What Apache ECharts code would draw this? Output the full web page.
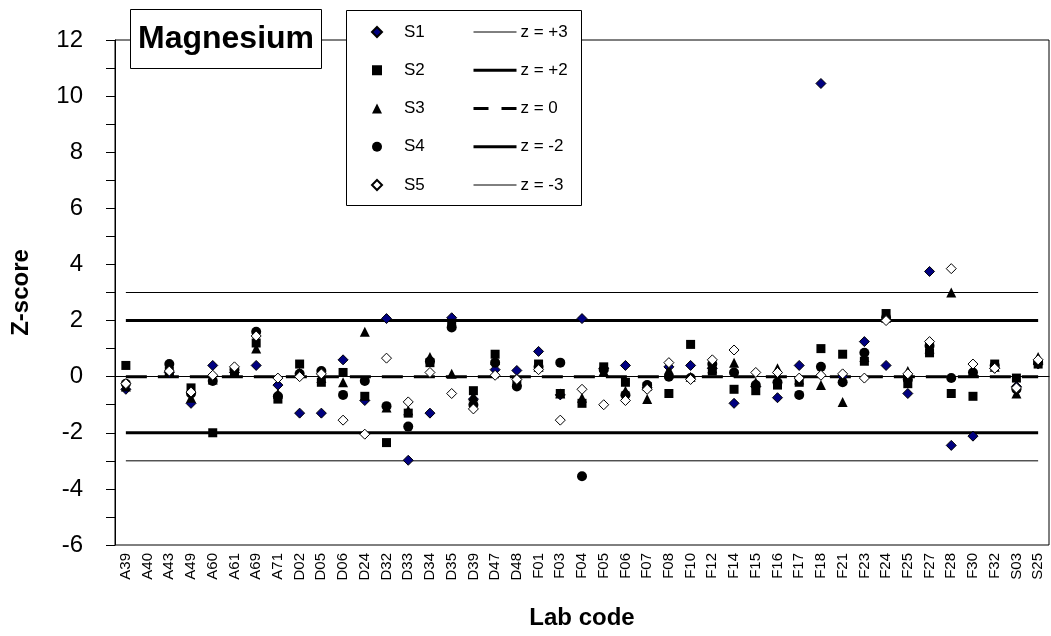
<!DOCTYPE html>
<html>
<head>
<meta charset="utf-8">
<script src="https://cdn.jsdelivr.net/npm/echarts@6/dist/echarts.min.js"></script>
<style>
  html, body { margin: 0; padding: 0; background: #fff; }
  #chart { width: 1051px; height: 636px; }
</style>
</head>
<body>
<div id="chart"></div>
<script>
const labCodes = ['A39', 'A40', 'A43', 'A49', 'A60', 'A61', 'A69', 'A71',
  'D02', 'D05', 'D06', 'D24', 'D32', 'D33', 'D34', 'D35', 'D39', 'D47', 'D48',
  'F01', 'F03', 'F04', 'F05', 'F06', 'F07', 'F08', 'F10', 'F12', 'F14', 'F15',
  'F16', 'F17', 'F18', 'F21', 'F23', 'F24', 'F25', 'F27', 'F28', 'F30', 'F32',
  'S03', 'S25'];

// z-scores per sample, same order as labCodes
const s1 = [-0.45, null, 0.15, -0.95, 0.4, 0.15, 0.4, -0.3,
  -1.3, -1.3, 0.6, -0.85, 2.07, -2.98, -1.3, 2.1, -0.8, 0.25, 0.22,
  0.9, -0.65, 2.07, 0.3, 0.4, -0.4, 0.35, 0.4, 0.3, -0.95, -0.35,
  -0.75, 0.4, 10.45, 0.0, 1.25, 0.4, -0.6, 3.75, -2.45, -2.12, 0.3,
  -0.35, 0.45];
const s2 = [0.4, null, 0.2, -0.4, -2.0, 0.15, 1.2, -0.8,
  0.45, -0.2, 0.15, -0.7, -2.35, -1.3, 0.5, 1.9, -0.5, 0.8, -0.2,
  0.45, -0.6, -0.95, 0.35, -0.2, -0.35, -0.6, 1.15, 0.2, -0.45, -0.5,
  -0.3, -0.2, 1.0, 0.8, 0.55, 2.25, -0.25, 0.85, -0.6, -0.7, 0.45,
  -0.05, 0.45];
const s3 = [-0.35, null, 0.2, -0.75, -0.1, 0.15, 1.0, -0.6,
  0.15, -0.05, -0.2, 1.6, -1.1, -1.2, 0.7, 0.1, -0.7, 0.6, -0.15,
  0.35, -0.6, -0.75, 0.2, -0.5, -0.8, 0.25, 0.0, 0.3, 0.5, -0.2,
  0.3, -0.1, -0.3, -0.9, 0.7, 2.1, 0.2, 1.0, 3.0, 0.2, 0.35,
  -0.6, 0.7];
const s4 = [-0.25, null, 0.45, -0.6, -0.15, 0.25, 1.6, -0.7,
  0.1, 0.2, -0.65, -0.15, -1.05, -1.78, 0.55, 1.75, -1.0, 0.5, -0.35,
  0.35, 0.5, -3.55, 0.25, -0.65, -0.3, 0.0, -0.05, 0.45, 0.15, -0.3,
  -0.2, -0.65, 0.35, -0.2, 0.85, 2.1, -0.1, 1.1, -0.05, 0.15, 0.4,
  -0.45, 0.5];
const s5 = [-0.25, null, 0.2, -0.55, 0.05, 0.35, 1.45, -0.05,
  0.0, 0.1, -1.55, -2.05, 0.66, -0.9, 0.15, -0.6, -1.15, 0.05, -0.1,
  0.25, -1.55, -0.45, -1.0, -0.85, -0.45, 0.5, -0.1, 0.6, 0.95, 0.15,
  0.15, -0.05, 0.05, 0.1, -0.05, 2.0, 0.1, 1.25, 3.85, 0.45, 0.3,
  -0.4, 0.6];

const zLevels = [3, 2, 0, -2, -3];
const zNames = ['z = +3', 'z = +2', 'z = 0', 'z = -2', 'z = -3'];

const font = 'Liberation Sans, Arial, sans-serif';
const chart = echarts.init(document.getElementById('chart'));

const lineStyles = [
  { width: 1, type: 'solid' },
  { width: 3, type: 'solid' },
  { width: 3, type: [21, 11] },
  { width: 3, type: 'solid' },
  { width: 1, type: 'solid' }
];
// legend swatches are shorter, so the dash is tightened a bit
const legendLines = [
  { width: 1, type: 'solid' },
  { width: 3, type: 'solid' },
  { width: 3, type: [15, 13] },
  { width: 3, type: 'solid' },
  { width: 1, type: 'solid' }
];

const zSeries = zLevels.map((z, i) => ({
  name: zNames[i],
  type: 'line',
  symbol: 'none',
  silent: true,
  z: 1,
  itemStyle: { color: '#000' },
  lineStyle: { color: '#000', ...lineStyles[i] },
  data: [[labCodes[0], z], [labCodes[labCodes.length - 1], z]]
}));

const scatterItem = {
  type: 'scatter',
  z: 3
};

chart.setOption({
  animation: false,
  backgroundColor: '#fff',
  textStyle: { fontFamily: font, color: '#000' },
  title: {
    text: 'Magnesium',
    left: 130,
    top: 9,
    padding: [10, 8],
    borderColor: '#000',
    borderWidth: 1,
    backgroundColor: '#fff',
    z: 10,
    textStyle: {
      fontFamily: font,
      fontSize: 32,
      fontWeight: 'bold',
      color: '#000',
      lineHeight: 40
    }
  },
  graphic: [{
    type: 'rect',
    z: 8,
    shape: { x: 346.5, y: 10.5, width: 235, height: 195 },
    style: { fill: '#fff', stroke: '#000', lineWidth: 1 }
  }],
  legend: [{
    data: ['S1', 'S2', 'S3', 'S4', 'S5'],
    orient: 'vertical',
    left: 371,
    top: 22,
    padding: 0,
    itemWidth: 10,
    itemHeight: 10,
    itemGap: 18.25,
    selectedMode: false,
    z: 12,
    textStyle: { fontFamily: font, fontSize: 17, color: '#000', lineHeight: 20, padding: [0, 0, 0, 17] }
  }, {
    data: zNames.map((name, i) => ({
      name: name,
      lineStyle: { color: '#000', ...legendLines[i] }
    })),
    orient: 'vertical',
    left: 472,
    top: 22,
    padding: 0,
    itemWidth: 43,
    itemHeight: 10,
    itemGap: 18.25,
    selectedMode: false,
    z: 12,
    itemStyle: { opacity: 0 },
    textStyle: { fontFamily: font, fontSize: 17, color: '#000', lineHeight: 20, padding: [0, 0, 0, -1] }
  }],
  grid: {
    left: 115,
    right: 2,
    top: 40,
    bottom: 91,
    outerBoundsMode: 'none',
    show: true,
    borderColor: '#000',
    borderWidth: 1
  },
  xAxis: {
    type: 'category',
    data: labCodes,
    name: 'Lab code',
    nameLocation: 'middle',
    nameGap: 61,
    nameTextStyle: { fontFamily: font, fontSize: 24, fontWeight: 'bold', color: '#000' },
    axisLine: { lineStyle: { color: '#000', width: 1 } },
    axisTick: { length: 5, lineStyle: { color: '#000' } },
    axisLabel: { rotate: 90, interval: 0, margin: 8, fontFamily: font, fontSize: 15, color: '#000' },
    splitLine: { show: false }
  },
  yAxis: {
    type: 'value',
    min: -6,
    max: 12,
    interval: 1,
    name: 'Z-score',
    nameLocation: 'middle',
    nameGap: 82,
    nameTextStyle: { fontFamily: font, fontSize: 24, fontWeight: 'bold', color: '#000' },
    axisLine: { show: true, lineStyle: { color: '#000', width: 1 } },
    axisTick: { show: true, length: 9, lineStyle: { color: '#000' } },
    axisLabel: {
      margin: 32,
      fontFamily: font,
      fontSize: 24,
      color: '#000',
      formatter: v => (v % 2 === 0 ? String(v) : '')
    },
    splitLine: { show: false }
  },
  series: [
    ...zSeries,
    {
      name: 'S1', data: s1, ...scatterItem,
      symbol: 'diamond', symbolSize: 10,
      itemStyle: { color: '#000080', borderColor: '#000', borderWidth: 1, opacity: 1 }
    },
    {
      name: 'S2', data: s2, ...scatterItem,
      symbol: 'rect', symbolSize: 9,
      itemStyle: { color: '#000', opacity: 1 }
    },
    {
      name: 'S3', data: s3, ...scatterItem,
      symbol: 'triangle', symbolSize: 10,
      itemStyle: { color: '#000', opacity: 1 }
    },
    {
      name: 'S4', data: s4, ...scatterItem,
      symbol: 'circle', symbolSize: 10,
      itemStyle: { color: '#000', opacity: 1 }
    },
    {
      name: 'S5', data: s5, ...scatterItem,
      symbol: 'diamond', symbolSize: 10,
      itemStyle: { color: '#fff', borderColor: '#000', borderWidth: 1, opacity: 1 }
    }
  ]
});
</script>
</body>
</html>
